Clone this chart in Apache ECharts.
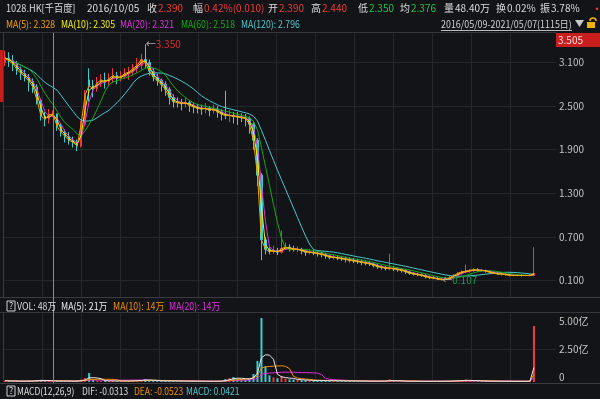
<!DOCTYPE html>
<html>
<head>
<meta charset="utf-8">
<script src="https://cdn.jsdelivr.net/npm/echarts@6/dist/echarts.min.js"></script>
<style>
html,body{margin:0;padding:0;background:#131418;}
#main{width:600px;height:399px;}
</style>
</head>
<body>
<div id="main"></div>
<script>
// 1028.HK 千百度  2016/05/09-2021/05/07, each candle here ~ 8 trading days
// [open, close, low, high]
var kline = [
  [3.10,3.16,3.05,3.26],[3.16,3.12,3.04,3.24],[3.12,3.08,2.98,3.20],[3.08,3.00,2.93,3.12],[3.00,2.95,2.86,3.04],
  [2.95,2.90,2.84,3.00],[2.90,2.84,2.70,2.94],[2.84,2.76,2.68,2.88],[2.76,2.58,2.52,2.80],[2.58,2.36,2.30,2.60],
  [2.36,2.32,2.22,2.42],[2.32,2.38,2.26,2.46],[2.39,2.39,2.35,2.44],[2.39,2.22,2.16,2.40],[2.22,2.14,2.08,2.26],
  [2.14,2.08,2.00,2.18],[2.08,2.03,1.97,2.14],[2.03,2.00,1.93,2.08],[2.00,1.95,1.88,2.04],[1.95,2.25,1.93,2.30],
  [2.25,2.66,2.22,2.72],[2.86,2.78,2.56,3.02],[2.78,2.74,2.62,2.86],[2.74,2.82,2.70,2.90],[2.82,2.86,2.76,2.94],
  [2.86,2.83,2.74,2.96],[2.83,2.88,2.78,2.95],[2.88,2.92,2.82,3.02],[2.92,2.88,2.80,2.97],[2.88,2.91,2.84,2.98],
  [2.91,2.95,2.87,3.02],[2.95,2.97,2.86,3.04],[2.97,3.02,2.92,3.08],[3.02,3.06,2.96,3.16],[3.06,3.14,3.00,3.22],
  [3.14,3.10,3.02,3.35],[3.10,2.98,2.92,3.14],[2.98,2.90,2.84,3.02],[2.90,2.85,2.78,2.94],[2.85,2.80,2.70,2.88],
  [2.80,2.73,2.64,2.84],[2.73,2.62,2.52,2.76],[2.62,2.56,2.48,2.66],[2.56,2.55,2.48,2.62],[2.55,2.53,2.44,2.60],
  [2.53,2.55,2.48,2.62],[2.55,2.51,2.42,2.58],[2.51,2.49,2.40,2.55],[2.49,2.47,2.40,2.53],[2.47,2.46,2.38,2.52],
  [2.46,2.47,2.40,2.54],[2.47,2.44,2.36,2.50],[2.44,2.46,2.40,2.52],[2.46,2.42,2.34,2.50],[2.42,2.39,2.30,2.46],
  [2.39,2.37,2.32,2.71],[2.37,2.37,2.28,2.44],[2.37,2.36,2.26,2.42],[2.36,2.35,2.24,2.42],[2.35,2.34,2.28,2.40],
  [2.34,2.33,2.22,2.39],[2.33,2.25,2.12,2.36],[2.25,2.03,1.90,2.28],[2.03,1.55,1.40,2.06],[1.55,0.66,0.38,1.58],
  [0.66,0.53,0.46,0.70],[0.53,0.50,0.46,0.56],[0.50,0.51,0.47,0.58],[0.51,0.49,0.45,0.55],[0.49,0.54,0.47,0.79],
  [0.54,0.56,0.52,0.62],[0.56,0.54,0.50,0.60],[0.54,0.53,0.50,0.58],[0.53,0.53,0.49,0.57],[0.53,0.51,0.46,0.55],
  [0.51,0.49,0.44,0.53],[0.49,0.49,0.46,0.53],[0.49,0.48,0.45,0.52],[0.48,0.47,0.43,0.51],[0.47,0.46,0.42,0.50],
  [0.46,0.44,0.40,0.48],[0.44,0.42,0.39,0.46],[0.42,0.42,0.39,0.46],[0.42,0.41,0.38,0.45],[0.41,0.40,0.37,0.44],
  [0.40,0.39,0.35,0.43],[0.39,0.38,0.35,0.42],[0.38,0.37,0.34,0.41],[0.37,0.36,0.33,0.40],[0.36,0.35,0.31,0.39],
  [0.35,0.34,0.31,0.38],[0.34,0.33,0.30,0.37],[0.33,0.31,0.28,0.35],[0.31,0.29,0.26,0.33],[0.29,0.28,0.25,0.31],
  [0.28,0.27,0.24,0.30],[0.26,0.27,0.24,0.47],[0.27,0.26,0.23,0.30],[0.26,0.25,0.22,0.28],[0.25,0.24,0.21,0.27],
  [0.24,0.22,0.19,0.26],[0.22,0.20,0.18,0.24],[0.20,0.19,0.17,0.22],[0.19,0.18,0.16,0.21],[0.18,0.17,0.15,0.20],
  [0.17,0.15,0.13,0.19],[0.15,0.14,0.12,0.17],[0.14,0.13,0.12,0.16],[0.13,0.12,0.11,0.15],[0.12,0.11,0.107,0.14],
  [0.11,0.12,0.11,0.15],[0.12,0.14,0.11,0.17],[0.14,0.17,0.13,0.19],[0.17,0.20,0.16,0.22],[0.20,0.22,0.18,0.24],
  [0.21,0.23,0.20,0.32],[0.23,0.24,0.21,0.26],[0.24,0.25,0.22,0.27],[0.25,0.24,0.22,0.27],[0.24,0.24,0.22,0.26],
  [0.24,0.23,0.21,0.25],[0.23,0.21,0.20,0.24],[0.21,0.20,0.19,0.23],[0.20,0.19,0.18,0.22],[0.19,0.19,0.17,0.21],
  [0.19,0.18,0.17,0.20],[0.18,0.17,0.16,0.19],[0.17,0.17,0.16,0.19],[0.17,0.17,0.16,0.19],[0.17,0.17,0.15,0.19],
  [0.17,0.17,0.16,0.18],[0.17,0.17,0.16,0.19],[0.17,0.20,0.16,0.56]
];
// 成交量 (亿)
var volume = [
  0.10,0.07,0.06,0.08,0.05,0.06,0.09,0.08,0.14,0.16,0.08,
  0.07,0.05,0.09,0.07,0.06,0.07,0.06,0.09,0.18,0.30,
  0.68,0.15,0.10,0.08,0.07,0.09,0.08,0.06,0.07,0.08,
  0.09,0.10,0.12,0.15,0.22,0.12,0.09,0.08,0.07,0.08,
  0.10,0.08,0.06,0.07,0.06,0.07,0.06,0.05,0.06,0.05,
  0.06,0.05,0.07,0.08,0.22,0.30,0.38,0.25,0.20,0.18,
  0.30,0.60,1.60,4.85,1.20,0.50,0.35,0.28,0.45,0.25,
  0.20,0.18,0.15,0.14,0.12,0.13,0.10,0.09,0.11,0.10,
  0.09,0.10,0.08,0.09,0.08,0.07,0.08,0.07,0.06,0.07,
  0.06,0.07,0.06,0.08,0.07,0.20,0.07,0.06,0.05,0.06,
  0.05,0.06,0.05,0.05,0.06,0.05,0.06,0.05,0.07,0.06,
  0.08,0.10,0.12,0.10,0.18,0.09,0.08,0.07,0.06,0.07,
  0.06,0.05,0.06,0.05,0.05,0.06,0.05,0.05,0.06,0.05,0.07,4.24
];
var slots = 138;                 // candles + empty room at the right edge
var crossIndex = 12;             // 2016/10/05
var priceTicks = [0.1, 0.7, 1.3, 1.9, 2.5, 3.1];
var volTicks = [0, 2.5, 5];

var maNames = ['MA(5)', 'MA(10)', 'MA(20)', 'MA(60)', 'MA(120)'];
var maWindows = [1, 2, 3, 7, 14];   // in candles
var maLast = ['2.328', '2.305', '2.321', '2.518', '2.796'];
var volMaNames = ['MA(5)', 'MA(10)', 'MA(20)'];
var volMaWindows = [4, 8, 16];
var volMaLast = ['21万', '14万', '14万'];

var quoteTitle = ['1028.HK[千百度]', '2016/10/05'];
var quoteLabels = ['收', '幅', '开', '高', '低', '均', '量', '换', '振'];
var quoteValues = ['2.390', '0.42%(0.010)', '2.390', '2.440', '2.350', '2.376', '48.40万', '0.02%', '3.78%'];
var rangeText = '2016/05/09-2021/05/07(1115日)';
var macdTexts = ['MACD(12,26,9)', 'DIF: -0.0313', 'DEA: -0.0523', 'MACD: 0.0421'];

// layout / styles
var UP = '#f03a3a', DOWN = '#3ccdd0';
var maColors = ['#f5a000', '#f0f000', '#e030e0', '#13a813', '#4cc6cc'];
var volMaColors = ['#e8e8e8', '#f09000', '#e030e0'];
var quoteX = [147, 193, 268, 311, 358, 400, 444, 496, 540];
var quoteColors = [UP, UP, UP, UP, '#22c04a', '#22c04a', '#dcdcdc', '#dcdcdc', '#dcdcdc'];
var maX = [6, 61, 120, 181, 241];
var volMaX = [61, 113, 169];
var macdX = [17, 82, 134, 186];
var macdColors = ['#dcdcdc', '#dcdcdc', '#f09000', '#4cc6cc'];
var FONT = '"Noto Sans CJK SC", "Microsoft YaHei", sans-serif';

function movingAvg(src, n) {
  return src.map(function (v, i) {
    var s = 0, c = 0;
    for (var j = Math.max(0, i - n + 1); j <= i; j++) { s += src[j]; c++; }
    return +(s / c).toFixed(4);
  });
}
var closes = kline.map(function (d) { return d[1]; });
var cats = [];
for (var i = 0; i < slots; i++) cats.push(String(i));
var gridX = [];
for (var g = 0; g <= 507; g += 39) gridX.push(g);

var chart = echarts.init(document.getElementById('main'));

function txt(x, y, s, color, sx, extra) {
  var st = { x: 0, y: 0, text: s, fill: color, font: '10px ' + FONT, verticalAlign: 'middle' };
  if (extra) for (var k in extra) st[k] = extra[k];
  return { type: 'text', silent: true, z: 10, x: x, y: y, scaleX: sx || 1, style: st };
}
function hline(y, x1, x2, color) {
  return { type: 'line', silent: true, z: 5, shape: { x1: x1, y1: y, x2: x2, y2: y }, style: { stroke: color, lineWidth: 1 } };
}

var graphics = [];
graphics.push(txt(6, 8, quoteTitle[0], '#dcdcdc', 0.92));
graphics.push(txt(87, 8, quoteTitle[1], '#dcdcdc'));
quoteLabels.forEach(function (l, i) {
  graphics.push(txt(quoteX[i], 8, l, '#dcdcdc'));
  graphics.push(txt(quoteX[i] + 11, 8, quoteValues[i], quoteColors[i]));
});
graphics.push(txt(592, 9, '···', UP, 1, { font: 'bold 10px ' + FONT }));
maNames.forEach(function (n, i) {
  graphics.push(txt(maX[i], 24, n + ': ' + maLast[i], maColors[i], 0.87));
});
graphics.push(txt(441, 24, rangeText, '#d0d0d0', 0.89));
graphics.push(hline(30.5, 441, 572, '#bdbdbd'));
graphics.push({ type: 'polygon', silent: true, z: 10, shape: { points: [[575, 20], [584, 20], [579.5, 27]] }, style: { fill: '#c8c8c8' } });
// lock icon
graphics.push({ type: 'arc', silent: true, z: 10, shape: { cx: 593, cy: 21, r: 3, startAngle: Math.PI, endAngle: 0 }, style: { stroke: '#f0b400', lineWidth: 1.5, fill: null } });
graphics.push({ type: 'rect', silent: true, z: 10, shape: { x: 587, y: 22, width: 8, height: 6 }, style: { fill: '#f0b400' } });
// pane frames
graphics.push(hline(32.5, 0, 556, '#34363b'));
graphics.push(hline(297.5, 0, 600, '#3a3c41'));
graphics.push(hline(312.5, 0, 600, '#34363b'));
graphics.push(hline(383.5, 0, 600, '#3a3c41'));
// left crosshair tag (cut) and right max tag
graphics.push({ type: 'rect', silent: true, z: 10, shape: { x: 0, y: 50, width: 3, height: 52 }, style: { fill: '#c41e1e' } });
graphics.push({ type: 'rect', silent: true, z: 10, shape: { x: 556, y: 33, width: 44, height: 14 }, style: { fill: '#c81e1e' } });
graphics.push(txt(558, 40, '3.505', '#f4dcdc'));
// volume / macd legends
function qbox(y) {
  graphics.push({ type: 'rect', silent: true, z: 10, shape: { x: 7, y: y - 5, width: 8, height: 10 }, style: { fill: null, stroke: '#d0d0d0', lineWidth: 1 } });
  graphics.push(txt(9, y, '?', '#e0e0e0', 1, { font: '9px ' + FONT }));
}
qbox(306);
graphics.push(txt(17, 306, 'VOL: 48万', '#dcdcdc', 0.88));
volMaNames.forEach(function (n, i) {
  graphics.push(txt(volMaX[i], 306, n + ': ' + volMaLast[i], volMaColors[i], 0.88));
});
qbox(391);
macdTexts.forEach(function (t, i) {
  graphics.push(txt(macdX[i], 391, t, macdColors[i], 0.85));
});

var hiddenX = {
  axisLine: { show: false }, axisTick: { show: false }, axisLabel: { show: false }, splitLine: { show: false }
};
function catAxis(grid) {
  return Object.assign({ type: 'category', gridIndex: grid, data: cats, boundaryGap: true }, hiddenX);
}
function gridLinesAxis(grid) {
  return {
    type: 'value', gridIndex: grid, min: 0, max: 553, position: 'top',
    axisLine: { show: false }, axisLabel: { show: false },
    axisTick: { show: false, customValues: gridX },
    splitLine: { show: true, lineStyle: { color: '#25272c' } }
  };
}

var series = [{
  type: 'candlestick', xAxisIndex: 0, yAxisIndex: 0, data: kline, barWidth: 2,
  itemStyle: { color: UP, color0: DOWN, borderColor: UP, borderColor0: DOWN, borderWidth: 1 },
  markPoint: {
    symbol: 'circle', symbolSize: 1, itemStyle: { color: 'rgba(0,0,0,0)' },
    data: [
      { type: 'max', valueDim: 'highest', label: { show: true, position: 'right', distance: 0,
        formatter: function (p) { return '{a|←}{b|' + p.value.toFixed(3) + '}'; },
        rich: { a: { color: '#aaaaaa', fontSize: 10 }, b: { color: '#d83030', fontSize: 10, fontFamily: FONT } } } },
      { type: 'min', valueDim: 'lowest', label: { show: true, position: 'right', distance: 0,
        formatter: function (p) { return '{a|←}{b|' + p.value.toFixed(3) + '}'; },
        rich: { a: { color: '#aaaaaa', fontSize: 10 }, b: { color: '#1f9a4e', fontSize: 10, fontFamily: FONT } } } }
    ]
  }
}];
for (var m = maNames.length - 1; m >= 0; m--) {
  series.push({
    name: maNames[m], type: 'line', xAxisIndex: 0, yAxisIndex: 0, showSymbol: false,
    data: movingAvg(closes, maWindows[m]), lineStyle: { width: 1, color: maColors[m] }, itemStyle: { color: maColors[m] }
  });
}
series.push({
  type: 'bar', xAxisIndex: 2, yAxisIndex: 1, barWidth: 2, data: volume,
  itemStyle: { color: function (p) { var k = kline[p.dataIndex]; return k[1] >= k[0] ? UP : DOWN; } }
});
for (var v = volMaNames.length - 1; v >= 0; v--) {
  series.push({
    type: 'line', xAxisIndex: 2, yAxisIndex: 1, showSymbol: false,
    data: movingAvg(volume, volMaWindows[v]), lineStyle: { width: 1, color: volMaColors[v] }
  });
}

var option = {
  backgroundColor: '#131418',
  animation: false,
  textStyle: { fontFamily: FONT },
  grid: [
    { left: 3, right: 44, top: 33, height: 264 },
    { left: 3, right: 44, top: 313, height: 69 }
  ],
  xAxis: [catAxis(0), gridLinesAxis(0), catAxis(1), gridLinesAxis(1)],
  yAxis: [{
    type: 'value', gridIndex: 0, position: 'right', min: -0.126, max: 3.505,
    axisLine: { show: true, lineStyle: { color: '#3a3c41' } },
    axisTick: { show: false, customValues: priceTicks },
    axisLabel: { customValues: priceTicks, color: '#c4c4c4', fontSize: 10, margin: 3,
      formatter: function (val) { return val.toFixed(3); } },
    splitLine: { lineStyle: { color: '#25272c' } }
  }, {
    type: 'value', gridIndex: 1, position: 'right', min: 0, max: 5.227,
    axisLine: { show: true, lineStyle: { color: '#3a3c41' } },
    axisTick: { show: false, customValues: [2.5] },
    axisLabel: { customValues: volTicks, color: '#c4c4c4', fontSize: 10, margin: 3,
      formatter: function (val) {
        if (val === 0) return '{b|0}';
        if (val === 5) return '{t|5.00亿}';
        return '2.50亿';
      },
      rich: { t: { padding: [10, 0, 0, 0], fontSize: 10, color: '#c4c4c4' }, b: { padding: [0, 0, 10, 0], fontSize: 10, color: '#c4c4c4' } } },
    splitLine: { lineStyle: { color: '#25272c' } }
  }],
  graphic: graphics,
  series: series
};
chart.setOption(option);

// crosshair on 2016/10/05
var cx = Math.round(chart.convertToPixel({ xAxisIndex: 0 }, crossIndex)) + 0.5;
graphics.push({ type: 'line', silent: true, z: 8, shape: { x1: cx, y1: 33, x2: cx, y2: 383 }, style: { stroke: '#8c8c8c', lineWidth: 1 } });
chart.setOption({ graphic: graphics });
</script>
</body>
</html>
